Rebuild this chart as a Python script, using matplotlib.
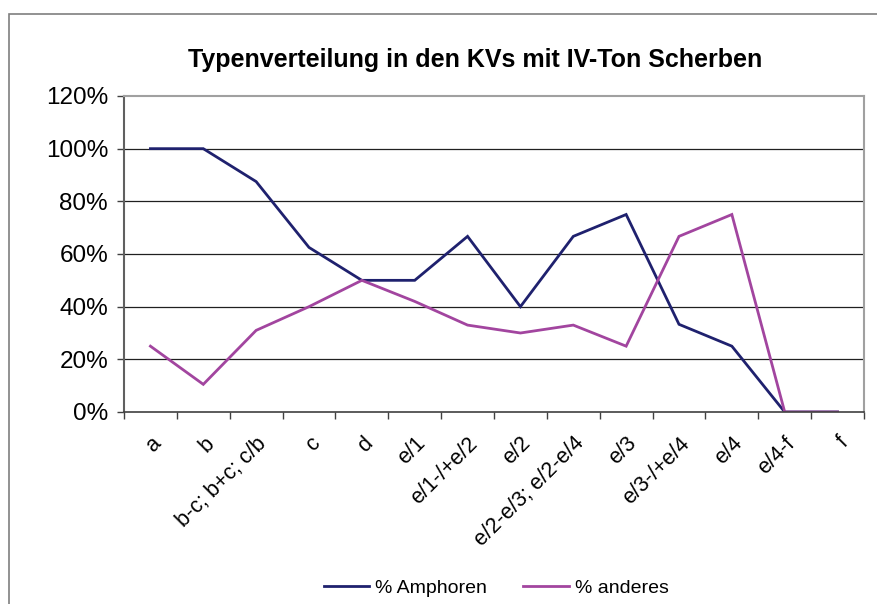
import matplotlib
matplotlib.use("Agg")
import matplotlib.pyplot as plt
from matplotlib.lines import Line2D
from matplotlib.patches import Rectangle
from matplotlib.ticker import FuncFormatter, FixedLocator
from matplotlib.transforms import ScaledTranslation
import numpy as np

plt.rcParams['font.family'] = ['Liberation Sans', 'DejaVu Sans']

categories = ['a', 'b', 'b-c; b+c; c/b', 'c', 'd', 'e/1', 'e/1-/+e/2', 'e/2',
              'e/2-e/3; e/2-e/4', 'e/3', 'e/3-/+e/4', 'e/4', 'e/4-f', 'f']
amphoren = [100, 100, 87.5, 62.5, 50, 50, 66.7, 40, 66.7, 75, 33.3, 25, 0, 0]
anderes = [25, 10.5, 31, 40, 50, 42, 33, 30, 33, 25, 66.7, 75, 0, 0]

navy = '#1f216e'
magenta = '#a2459f'

fig = plt.figure(figsize=(8.77, 6.04), dpi=100)
W, H = 877, 604

# outer chart frame, cut at right and bottom
fig.patches.append(Rectangle((9 / W, -0.05), 1.2, 1 - 13.5 / H + 0.05,
                             transform=fig.transFigure, fill=False,
                             edgecolor='#7f7f7f', lw=1.2))

ax = fig.add_axes([124 / W, 1 - 412 / H, (864 - 124) / W, (412 - 96) / H])
x = np.arange(len(categories))

ax.plot(x, amphoren, color=navy, lw=2, label='% Amphoren', solid_joinstyle='miter')
ax.plot(x, anderes, color=magenta, lw=2, label='% anderes', solid_joinstyle='miter')

ax.set_xlim(-0.5, len(categories) - 0.5)
ax.set_ylim(0, 120)
ax.set_yticks(np.arange(0, 121, 20))
ax.yaxis.set_major_formatter(FuncFormatter(lambda v, p: f'{int(v)}%'))
for yv in range(20, 101, 20):
    ax.axhline(yv, color='#202020', lw=0.9, zorder=0)

ax.set_xticks(x)
ax.set_xticklabels(categories, rotation=45, ha='right', rotation_mode='anchor')
shift = ScaledTranslation(-4 / 100, 0, fig.dpi_scale_trans)
for lbl in ax.get_xticklabels():
    lbl.set_transform(lbl.get_transform() + shift)
ax.xaxis.set_minor_locator(FixedLocator(np.arange(-0.5, len(categories), 1)))
ax.tick_params(axis='x', which='major', length=0, labelsize=15.5, pad=15)
ax.tick_params(axis='x', which='minor', length=5, width=1, color='#404040')
ax.tick_params(axis='y', length=5, width=1, color='#404040', labelsize=17.5, pad=6.5)

for side in ['top', 'right']:
    ax.spines[side].set_color('#a0a0a0')
    ax.spines[side].set_linewidth(1.5)
ax.spines['left'].set_color('#606060')
ax.spines['left'].set_linewidth(1.5)
ax.spines['bottom'].set_color('#404040')
ax.spines['bottom'].set_linewidth(1.2)

fig.text(475 / W, 1 - 60 / H, 'Typenverteilung in den KVs mit IV-Ton Scherben',
         ha='center', va='center', fontsize=18, fontweight='bold')

handles = [Line2D([], [], color=navy, lw=2), Line2D([], [], color=magenta, lw=2)]
fig.legend(handles, ['% Amphoren', '% anderes'], loc='center',
           bbox_to_anchor=(496 / W, 1 - 588 / H), ncol=2, frameon=False,
           fontsize=14, handlelength=2.35, columnspacing=1.85, handletextpad=0.3)

fig.savefig('out.png', dpi=100)
